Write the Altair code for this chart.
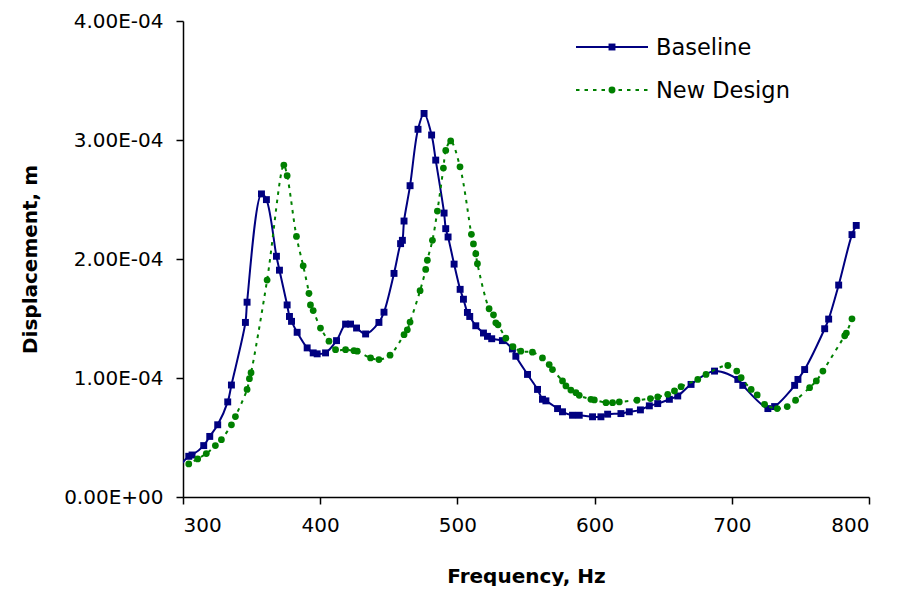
import altair as alt
import pandas as pd

# ---- data ----
baseline_freq = [297.0, 304.2, 306.6, 315.1, 319.5, 325.3, 332.6, 335.3, 345.5, 346.7,
                 357.2, 360.8, 368.1, 370.3, 375.9, 377.6, 379.1, 383.2, 390.5, 394.9,
                 397.8, 403.9, 411.9, 418.5, 422.1, 426.5, 433.1, 442.8, 446.5, 453.8,
                 458.6, 459.9, 461.1, 465.5, 471.3, 475.7, 481.2, 484.2, 490.3, 491.5,
                 493.2, 497.6, 502.0, 504.4, 507.3, 509.0, 513.4, 519.0, 521.9, 525.0,
                 532.8, 540.1, 542.6, 551.1, 558.4, 562.0, 564.5, 573.0, 576.6, 583.9,
                 588.8, 598.5, 604.6, 609.5, 619.2, 625.3, 633.4, 639.9, 646.0, 654.5,
                 660.6, 670.3, 687.4, 704.4, 708.0, 726.3, 731.2, 745.8, 748.2, 753.1,
                 767.7, 770.6, 777.9, 787.6, 790.7]
baseline_disp_e4 = [0.25, 0.342, 0.353, 0.432, 0.509, 0.607, 0.799, 0.941, 1.467, 1.637,
                    2.547, 2.499, 2.023, 1.906, 1.614, 1.517, 1.476, 1.384, 1.253, 1.211,
                    1.203, 1.211, 1.314, 1.453, 1.453, 1.420, 1.370, 1.467, 1.553, 1.879,
                    2.129, 2.157, 2.319, 2.616, 3.090, 3.223, 3.042, 2.831, 2.386, 2.255,
                    2.185, 1.957, 1.745, 1.662, 1.551, 1.517, 1.439, 1.378, 1.350, 1.330,
                    1.314, 1.244, 1.183, 1.030, 0.904, 0.821, 0.808, 0.743, 0.716, 0.687,
                    0.687, 0.674, 0.674, 0.696, 0.701, 0.716, 0.732, 0.766, 0.785, 0.821,
                    0.849, 0.946, 1.058, 0.988, 0.938, 0.743, 0.760, 0.938, 0.988, 1.071,
                    1.414, 1.495, 1.781, 2.205, 2.282]

newdesign_freq = [297.0, 304.2, 310.7, 317.0, 323.6, 328.0, 335.3, 338.2, 346.7, 348.4,
                  349.6, 361.3, 373.5, 375.9, 382.7, 387.6, 391.8, 392.9, 394.9, 400.2,
                  406.4, 411.2, 418.5, 424.6, 427.0, 436.7, 442.8, 450.9, 461.1, 463.5,
                  465.5, 472.8, 476.9, 478.1, 481.8, 485.4, 489.8, 491.5, 495.1, 501.9,
                  510.2, 511.7, 513.4, 514.6, 523.1, 526.3, 528.0, 529.6, 535.3, 540.5,
                  546.2, 554.7, 562.0, 566.9, 569.3, 576.6, 579.1, 582.7, 586.4, 588.8,
                  597.3, 599.8, 608.3, 613.1, 618.0, 630.9, 640.7, 646.0, 653.3, 658.2,
                  663.0, 675.2, 681.2, 697.1, 703.6, 706.8, 714.1, 718.5, 723.9, 733.1,
                  740.4, 746.5, 756.7, 761.6, 766.4, 782.3, 783.5, 787.6]
newdesign_disp_e4 = [0.23, 0.278, 0.320, 0.365, 0.432, 0.482, 0.607, 0.676, 0.904, 0.994,
                     1.044, 1.823, 2.789, 2.700, 2.190, 1.943, 1.712, 1.614, 1.567, 1.420,
                     1.309, 1.238, 1.238, 1.230, 1.225, 1.169, 1.155, 1.192, 1.364, 1.405,
                     1.470, 1.734, 1.912, 1.990, 2.157, 2.403, 2.764, 2.912, 2.992, 2.775,
                     2.207, 2.127, 2.044, 1.960, 1.582, 1.531, 1.464, 1.447, 1.334, 1.263,
                     1.225, 1.217, 1.169, 1.113, 1.071, 0.975, 0.933, 0.899, 0.877, 0.854,
                     0.821, 0.816, 0.793, 0.793, 0.799, 0.813, 0.827, 0.841, 0.863, 0.891,
                     0.927, 0.988, 1.030, 1.105, 1.058, 1.002, 0.904, 0.858, 0.779, 0.743,
                     0.760, 0.813, 0.919, 0.975, 1.058, 1.355, 1.378, 1.497]

series_names = ["Baseline", "New Design"]
series_colors = ["#000080", "#008000"]
x_ticks = [300, 400, 500, 600, 700, 800]
y_ticks = [0.0, 1e-4, 2e-4, 3e-4, 4e-4]

FONT = "DejaVu Sans"

df_base = pd.DataFrame({"freq": baseline_freq,
                        "disp": [v * 1e-4 for v in baseline_disp_e4],
                        "series": series_names[0]})
df_new = pd.DataFrame({"freq": newdesign_freq,
                       "disp": [v * 1e-4 for v in newdesign_disp_e4],
                       "series": series_names[1]})
df = pd.concat([df_base, df_new], ignore_index=True)

x_enc = alt.X("freq:Q",
              scale=alt.Scale(domain=[300, 800], nice=False, zero=False),
              axis=alt.Axis(values=x_ticks, format="d", title="Frequency, Hz",
                            tickSize=7, labelPadding=11, titlePadding=31))
y_enc = alt.Y("disp:Q",
              scale=alt.Scale(domain=[0, 4e-4], nice=False),
              axis=alt.Axis(values=y_ticks, title="Displacement, m",
                            labelExpr="datum.value == 0 ? '0.00E+00' : format(datum.value * 10000, '.2f') + 'E-04'",
                            tickSize=7, labelPadding=13, titlePadding=23))

base = alt.Chart(df)

blue_line = base.transform_filter(alt.datum.series == series_names[0]).mark_line(
    color=series_colors[0], strokeWidth=2, interpolate="catmull-rom", clip=True
).encode(x=x_enc, y=y_enc)
blue_pts = base.transform_filter(alt.datum.series == series_names[0]).mark_point(
    shape="square", filled=True, color=series_colors[0], size=48, opacity=1, clip=True
).encode(x="freq:Q", y="disp:Q")

green_line = base.transform_filter(alt.datum.series == series_names[1]).mark_line(
    color=series_colors[1], strokeWidth=2, strokeDash=[3.5, 5], interpolate="catmull-rom", clip=True
).encode(x="freq:Q", y="disp:Q")
green_pts = base.transform_filter(alt.datum.series == series_names[1]).mark_point(
    shape="circle", filled=True, color=series_colors[1], size=46, opacity=1, clip=True
).encode(x="freq:Q", y="disp:Q")

# ---- legend (drawn by hand, top right of plot) ----
leg_df = pd.DataFrame({"series": series_names})
leg = alt.Chart(leg_df)
rows = [26, 69]
legend_layers = []
for name, col, shp, dash, yy in zip(series_names, series_colors, ["square", "circle"],
                                    [[1, 0], [3.5, 5]], rows):
    sub = leg.transform_filter(alt.datum.series == name)
    legend_layers.append(sub.mark_rule(color=col, strokeWidth=2, strokeDash=dash).encode(
        x=alt.value(393), x2=alt.value(465), y=alt.value(yy)))
    legend_layers.append(sub.mark_point(shape=shp, filled=True, color=col, size=48, opacity=1).encode(
        x=alt.value(429), y=alt.value(yy)))
    legend_layers.append(sub.mark_text(align="left", baseline="middle", font=FONT,
                                       fontSize=22.5, color="black").encode(
        x=alt.value(473), y=alt.value(yy + 1), text="series:N"))

chart = alt.layer(blue_line, blue_pts, green_line, green_pts, *legend_layers).properties(
    width=686, height=476,
    padding={"left": 12, "top": 3, "right": 10, "bottom": 0},
).configure_view(stroke=None).configure_axis(
    grid=False, domainColor="black", tickColor="black", domainWidth=1.5, tickWidth=1.5,
    labelColor="black", titleColor="black", labelFont=FONT, titleFont=FONT,
    labelFontSize=20, titleFontSize=20, titleFontWeight="bold"
)

chart.save("out.html", embed_options={"renderer": "svg", "actions": False})
